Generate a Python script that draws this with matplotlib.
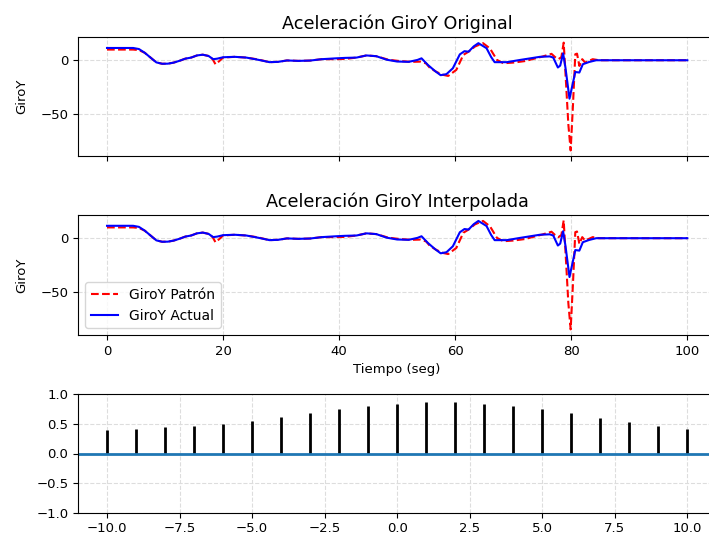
import matplotlib
matplotlib.use("Agg")
import matplotlib.pyplot as plt

# ---- data ----
t_actual = [0, 4.5, 5.5, 6.5, 7.5, 8.5, 9.5, 10.5, 11.5, 12.5, 13.5, 14.5, 15.5, 16.5, 17.5,
            18.3, 19, 20, 22, 24, 26, 28, 29.5, 31, 33, 35, 37, 39.5, 41, 43, 44.7, 46.4,
            48.2, 50, 52, 53.5, 54.2, 55.3, 56.5, 57.5, 58.5, 59.6, 60.8, 61.6, 62.3, 63.2,
            64, 65.4, 66.2, 66.8, 68.9, 71.2, 74.6, 76.3, 76.9, 77.7, 78.1, 78.6, 79, 79.7,
            80.3, 80.7, 81.4, 82, 83.1, 84.3, 90, 100]
y_actual = [11.5, 11.5, 10.5, 7, 2.5, -2, -3.3, -3.2, -2.2, -0.5, 1.5, 2.5, 4.5, 5.2, 4,
            1, 1.5, 2.8, 3.2, 2.5, 0.5, -1.8, -1.5, -0.2, -0.6, -0.3, 1, 1.8, 2.2, 2.5, 4.5, 3.8,
            0.5, -1.2, -1.5, 0.3, 1.8, -4.4, -10, -14, -13, -7.5, 5.5, 8.5, 8, 13,
            16, 11.3, 3, -1.8, -1.8, 0.3, 3.2, 3.6, 2.5, -6.8, -5, 6.5, -6.8, -36,
            -21, -11, -11.5, -3.7, -1.6, 0, 0, 0]

t_patron = [0, 4.5, 5.5, 6.5, 7.5, 8.5, 9.5, 10.5, 11.5, 12.5, 13.5, 14.5, 15.5, 16.5, 17.5,
            18.2, 18.7, 19.3, 20, 22, 24, 26, 28, 29.5, 31, 33, 35, 37, 39.5, 41, 43, 44.7,
            46.4, 48.5, 50.5, 52.5, 54, 55, 55.6, 56.8, 58, 58.8, 60.2, 61.4, 62.3, 63.4,
            64.8, 66, 67.2, 68.3, 70, 72, 75, 76.6, 77.2, 77.8, 78.3, 78.7, 79.1, 79.5,
            79.9, 80.3, 80.7, 81, 81.4, 81.9, 82.4, 83.7, 84.8, 90, 100]
y_patron = [10, 10, 9.5, 7, 2.5, -2, -3.3, -3.2, -2.2, -0.5, 1.5, 2.5, 4.5, 5.2, 4,
            1, -3.8, -1, 2.5, 3.2, 2.5, 0.8, -1.8, -1.5, -0.2, -0.6, -0.3, 1, 1, 1.2, 2.5, 4.5,
            3.8, 0.5, -0.8, -1.5, -1.3, -3, -6.9, -11, -13.8, -14.7, -9, 5, 8, 12.8,
            16, 11, 0.3, -2.8, -2.2, -0.8, 3.4, 6, 3, 1, 3, 16.5, -21, -60,
            -84.5, -42, 5.6, 6.2, -5.3, 1, -2.2, 1, 0, 0, 0]

lags = [-10, -9, -8, -7, -6, -5, -4, -3, -2, -1, 0, 1, 2, 3, 4, 5, 6, 7, 8, 9, 10]
corr = [0.39, 0.415, 0.44, 0.466, 0.506, 0.55, 0.62, 0.69, 0.75, 0.795, 0.84,
        0.864, 0.864, 0.84, 0.795, 0.75, 0.69, 0.60, 0.53, 0.466, 0.42]

titles = ["Aceleración GiroY Original", "Aceleración GiroY Interpolada"]

W, H = 709, 540
fig = plt.figure(figsize=(W / 100, H / 100), dpi=100)

def frac(left, top, right, bottom):
    return [left / W, (H - bottom) / H, (right - left) / W, (bottom - top) / H]

TICK = 9.5
GRID = dict(linestyle='--', color='#dddddd', linewidth=0.8)
ax1 = fig.add_axes(frac(78, 37.3, 716.3, 156))
ax2 = fig.add_axes(frac(78, 215, 716.3, 335), sharex=ax1)
ax3 = fig.add_axes(frac(78, 394.3, 716.3, 512.7))

for ax, title in zip([ax1, ax2], titles):
    ax.plot(t_patron, y_patron, color='red', linestyle='--', linewidth=1.5, label='GiroY Patrón')
    ax.plot(t_actual, y_actual, color='blue', linestyle='-', linewidth=1.5, label='GiroY Actual')
    ax.set_title(title, fontsize=12.7)
    ax.set_ylabel('GiroY', fontsize=TICK, labelpad=9)
    ax.grid(True, **GRID)
    ax.set_xticks([0, 20, 40, 60, 80, 100])
    ax.set_yticks([0, -50])
    ax.tick_params(labelsize=TICK)
    ax.set_ylim(-89.7, 21.5)
ax1.set_xlim(-5, 105)
ax1.tick_params(labelbottom=False)
ax2.set_xlabel('Tiempo (seg)', fontsize=TICK)
ax2.legend(loc='lower left', fontsize=10, handlelength=2.0)

ax3.vlines(lags, 0, corr, colors='k', linewidth=2)
ax3.axhline(0, color='#1f77b4', linewidth=2)
ax3.set_xlim(-11, 11)
ax3.set_ylim(-1, 1)
ax3.set_xticks([-10, -7.5, -5, -2.5, 0, 2.5, 5, 7.5, 10])
ax3.set_yticks([-1, -0.5, 0, 0.5, 1])
ax3.grid(True, **GRID)
ax3.tick_params(labelsize=TICK)

fig.savefig('out.png', dpi=100)
